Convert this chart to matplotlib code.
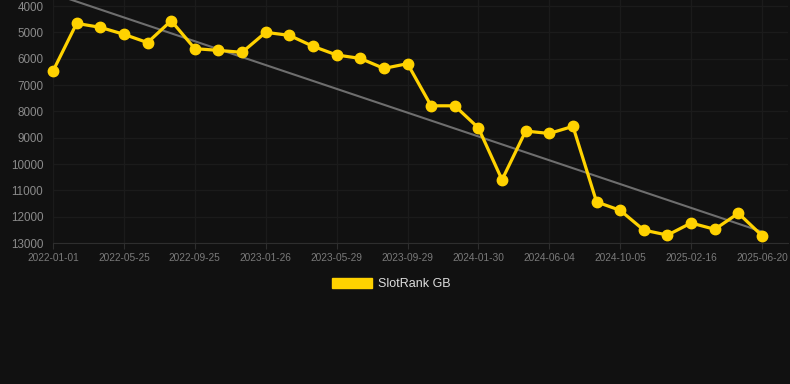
import numpy as np
import matplotlib
matplotlib.use("Agg")
import matplotlib.pyplot as plt
from matplotlib.patches import Patch

plt.rcParams['font.family'] = ['Liberation Sans', 'DejaVu Sans']

# tick labels shown every 3rd point
tick_labels = ['2022-01-01', '2022-05-25', '2022-09-25', '2023-01-26', '2023-05-29',
               '2023-09-29', '2024-01-30', '2024-06-04', '2024-10-05', '2025-02-16',
               '2025-06-20']

rank = [6470, 4660, 4810, 5075, 5390, 4560, 5620, 5685, 5760, 5000,
        5115, 5530, 5860, 5990, 6370, 6190, 7790, 7790, 8630, 10600,
        8750, 8840, 8570, 11440, 11760, 12510, 12700, 12240, 12480, 11870,
        12720]

trend_start = 3530
trend_end = 12570

bg = '#111111'
gold = '#FFD200'

x = np.arange(len(rank))

fig = plt.figure(figsize=(7.9, 3.84), dpi=100, facecolor=bg)
ax = fig.add_axes([53 / 790, 1 - 243 / 384, (788 - 53) / 790, 243 / 384])
ax.set_facecolor(bg)

ax.plot([x[0], x[-1]], [trend_start, trend_end], color='#6e6e6e', linewidth=1.5, zorder=2)
ax.plot(x, rank, color=gold, linewidth=2.3, marker='o', markersize=7.5, zorder=3,
        clip_on=False)

ax.set_xlim(0, 31.1)
ax.set_ylim(13000, 3772)
ax.set_yticks(range(4000, 13001, 1000))
ax.set_xticks(x[::3])
ax.set_xticklabels(tick_labels)

ax.grid(True, color='#1b1b1b', linewidth=1)
ax.set_axisbelow(True)
for side in ['top', 'right', 'left']:
    ax.spines[side].set_visible(False)
ax.spines['bottom'].set_color('#2e2e2e')

ax.tick_params(axis='y', length=0, pad=7, labelsize=8.4, labelcolor='#8a8a8a')
ax.tick_params(axis='x', length=4, color='#2e2e2e', pad=3, labelsize=7.3, labelcolor='#7a7a7a')

handle = Patch(facecolor=gold, edgecolor=gold)
fig.legend([handle], ['SlotRank GB'], loc='center', bbox_to_anchor=(0.495, 1 - 284 / 384),
           frameon=False, fontsize=9, labelcolor='#dddddd', handlelength=3.2,
           handleheight=0.8, handletextpad=0.5)

fig.savefig('out.png', dpi=100, facecolor=bg)
